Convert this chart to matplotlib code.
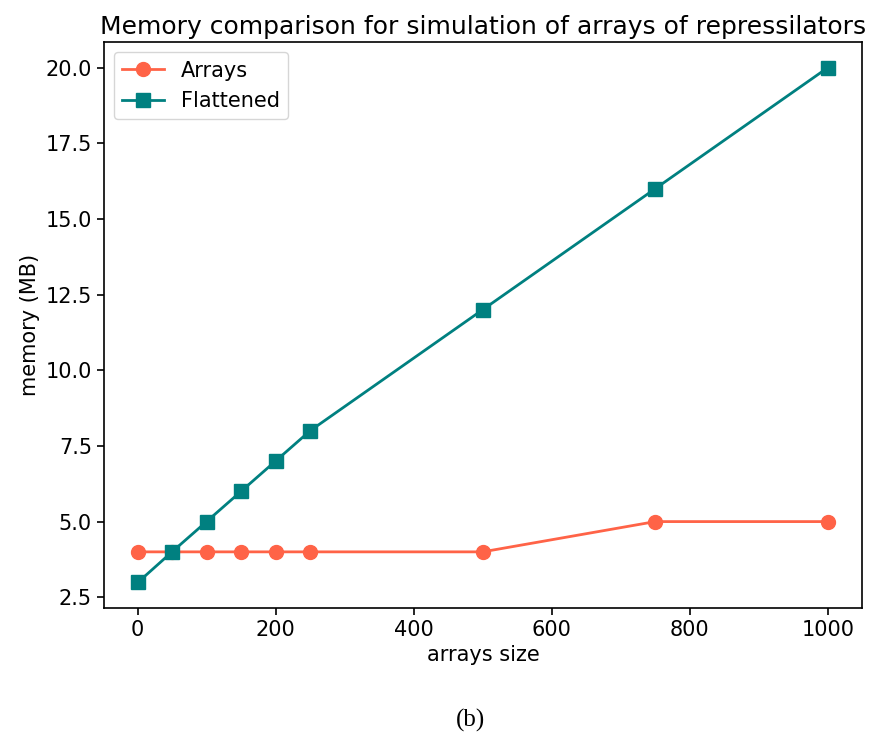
import matplotlib
matplotlib.use("Agg")
import matplotlib.pyplot as plt

sizes = [1, 50, 100, 150, 200, 250, 500, 750, 1000]
arrays_mem = [4, 4, 4, 4, 4, 4, 4, 5, 5]
flattened_mem = [3, 4, 5, 6, 7, 8, 12, 16, 20]

fig = plt.figure(figsize=(8.79, 7.35), dpi=100)
ax = fig.add_axes([0.118, 0.173, 0.863, 0.770])

ax.plot(sizes, arrays_mem, marker='o', color='tomato', label='Arrays', markersize=10, linewidth=2)
ax.plot(sizes, flattened_mem, marker='s', color='teal', label='Flattened', markersize=10, linewidth=2)

ax.set_xlabel("arrays size", fontsize=15)
ax.set_ylabel("memory (MB)", fontsize=15)
ax.set_title("Memory comparison for simulation of arrays of repressilators", fontsize=18)
ax.tick_params(labelsize=15, width=1.2, length=5)
for s in ax.spines.values():
    s.set_linewidth(1.2)
ax.set_yticks([2.5, 5.0, 7.5, 10.0, 12.5, 15.0, 17.5, 20.0])
ax.legend(fontsize=15, loc='upper left')

fig.text(0.535, 0.012, "(b)", fontsize=18, family='Liberation Serif', ha='center')

fig.savefig("out.png", dpi=100)
